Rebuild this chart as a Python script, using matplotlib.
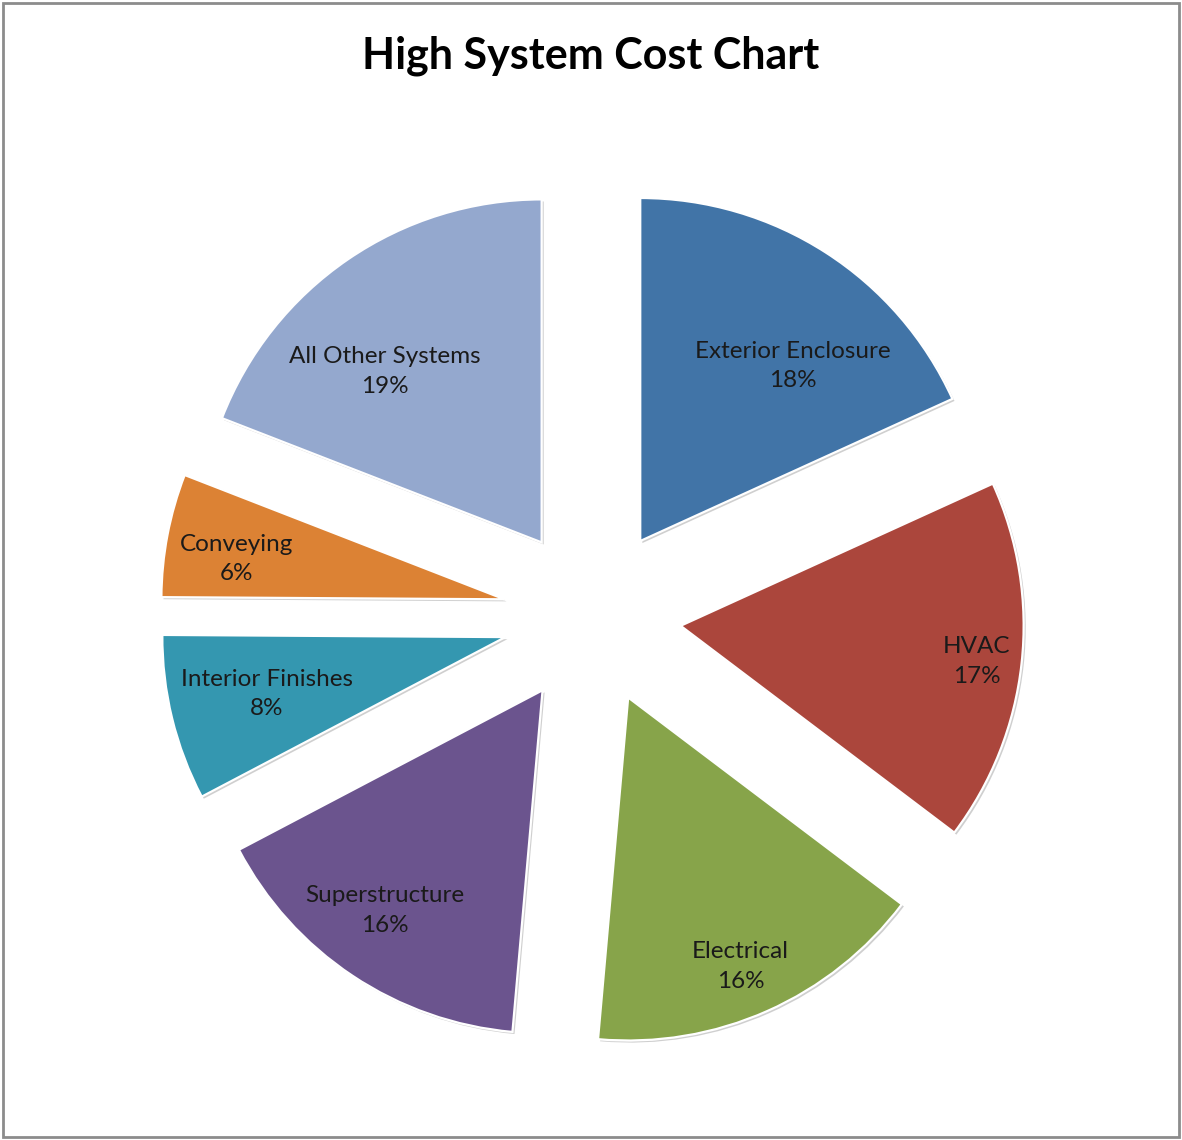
import numpy as np
import matplotlib
matplotlib.use("Agg")
import matplotlib.pyplot as plt
import matplotlib.patheffects as pe
from matplotlib.patches import Rectangle

# ── data ──────────────────────────────────────────────
systems = ["Exterior Enclosure", "HVAC", "Electrical", "Superstructure",
           "Interior Finishes", "Conveying", "All Other Systems"]
shares = [18.2, 17.1, 16.1, 15.9, 7.8, 5.8, 19.1]   # % of total

# ── style ─────────────────────────────────────────────
colors = ["#4174A7", "#AB463C", "#87A44A", "#6B548E", "#3497B0", "#DC8234", "#94A8CE"]
label_r = [0.677, 0.87, 0.85, 0.79, 0.715, 0.79, 0.676]   # fraction of radius
label_dtheta = [-8.3, -0.6, -1.25, -2.0, -0.3, 2.3, 8.2]  # degrees off the bisector
explode_frac = 0.26

W, H, DPI = 1182, 1140, 100
R_PX = 343          # pie radius in pixels
CX, CY = 592, 616   # pie centre in pixels (from top-left)

plt.rcParams["font.family"] = ["Lato", "DejaVu Sans"]

fig = plt.figure(figsize=(W / DPI, H / DPI), dpi=DPI)
ax = fig.add_axes([0, 0, 1, 1])

wedges, _ = ax.pie(shares, explode=[explode_frac] * len(shares), colors=colors,
                   startangle=90, counterclock=False, radius=1.0,
                   wedgeprops=dict(edgecolor="white", linewidth=1.6))
for w in wedges:
    w.set_path_effects([pe.SimplePatchShadow(offset=(1.5, -1.5), shadow_rgbFace="#777777",
                                             alpha=0.35), pe.Normal()])

# pie() resets the limits, so fix the scale afterwards (1 unit = R_PX pixels)
ax.set_aspect("auto")
ax.set_xlim(-CX / R_PX, (W - CX) / R_PX)
ax.set_ylim(-(H - CY) / R_PX, CY / R_PX)
ax.axis("off")

# labels inside each wedge
for w, name, pct, fr, dt in zip(wedges, systems, shares, label_r, label_dtheta):
    mid = np.deg2rad((w.theta1 + w.theta2) / 2 + dt)
    cx, cy = w.center
    ax.text(cx + fr * np.cos(mid), cy + fr * np.sin(mid), f"{name}\n{pct:.0f}%",
            ha="center", va="center", fontsize=17.5, color="#1a1a1a",
            linespacing=1.5)

fig.text(0.5, 1 - 56 / H, "High System Cost Chart", ha="center", va="center",
         fontsize=31, fontweight="bold", color="black")

# outer chart frame
fig.patches.append(Rectangle((3 / W, 3 / H), 1 - 6 / W, 1 - 6 / H, transform=fig.transFigure,
                             fill=False, edgecolor="#8c8c8c", linewidth=2))

fig.savefig("out.png", dpi=DPI)
